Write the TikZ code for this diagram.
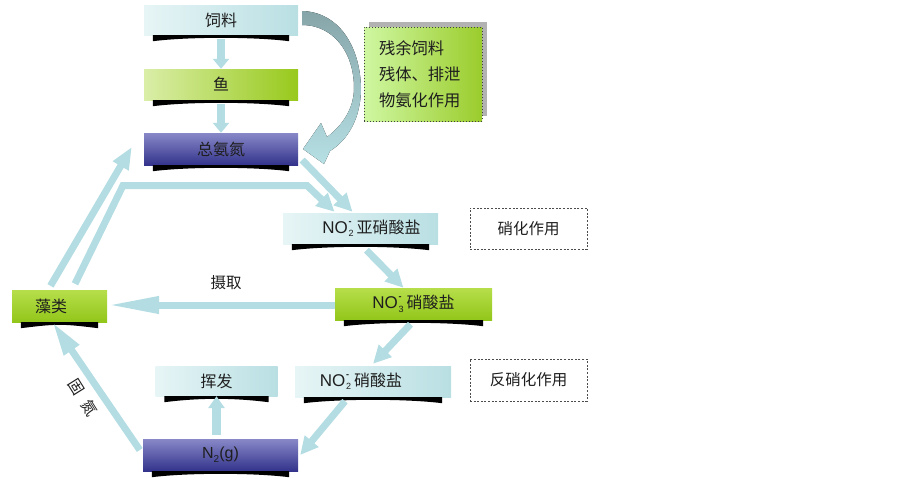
\documentclass[tikz,border=0pt]{standalone}
\usepackage{fontspec}
\setmainfont{Noto Sans CJK SC}
\newfontfamily\lat{Liberation Sans}
\usetikzlibrary{arrows.meta,calc}
\definecolor{arrc}{HTML}{B3DDE2}
\definecolor{txt}{HTML}{1E1E1E}
\definecolor{cL}{HTML}{E7F5F6}
\definecolor{cR}{HTML}{B9DFE3}
\definecolor{gL}{HTML}{DAEEA8}
\definecolor{gR}{HTML}{98C91C}
\definecolor{gT}{HTML}{B6DE4A}
\definecolor{gB}{HTML}{92C61A}
\definecolor{pT}{HTML}{8888C8}
\definecolor{pB}{HTML}{33338C}
\definecolor{rL}{HTML}{CFF7A2}
\definecolor{rR}{HTML}{9BCC2C}
\definecolor{curT}{HTML}{86A5A9}
\definecolor{curB}{HTML}{B6E0E4}
\newcommand{\nox}[1]{{\lat\fontsize{17}{17}\selectfont NO}\hspace{0.8pt}\rlap{\raisebox{-3.5pt}{\lat\fontsize{9}{9}\selectfont #1}}\raisebox{9pt}{\makebox[5pt][l]{\lat\fontsize{9}{9}\selectfont\bfseries -}}\hspace{3pt}}
\newcommand{\shd}[1]{\fill[black] ([xshift=9pt]#1.south west) -- ([xshift=-9pt]#1.south east) -- ([xshift=-9pt,yshift=-6pt]#1.south east) .. controls ([xshift=-45pt,yshift=-1.5pt]#1.south east) and ([xshift=45pt,yshift=-1.5pt]#1.south west) .. ([xshift=9pt,yshift=-6pt]#1.south west) -- cycle;}
\tikzset{
  bx/.style={minimum width=154pt, minimum height=31pt, inner sep=0pt, font=\fontsize{16}{16}\selectfont, text=txt},
  cyanbx/.style={bx, left color=cL, right color=cR},
  greenbx/.style={bx, left color=gL, right color=gR},
  greentb/.style={bx, top color=gT, bottom color=gB},
  purpbx/.style={bx, top color=pT, bottom color=pB},
  arr/.style={draw=arrc, line width=7pt, -{Triangle[width=17pt,length=18pt]}},
  varr/.style={draw=arrc, line width=8.5pt, -{Triangle[width=16pt,length=10pt]}},
  dbox/.style={draw=black!70, dash pattern=on 2pt off 1.6pt, line width=0.9pt, fill=white, minimum width=117pt, minimum height=41pt, inner sep=0pt, font=\fontsize{15.5}{15.5}\selectfont, text=txt},
  lbl/.style={font=\fontsize{15.5}{15.5}\selectfont, text=txt, inner sep=0pt}
}
\begin{document}
\begin{tikzpicture}[x=1pt,y=-1pt]
\useasboundingbox (0,0) rectangle (903,480);
% nodes
\node[cyanbx, minimum height=30pt] (feed) at (221,20) {饲料};
\node[greenbx] (fish) at (221,84.5) {鱼};
\node[purpbx, minimum height=32pt] (tan) at (221,149) {总氨氮};
\fill[black!30] (369,22) rectangle (487,116);
\node[draw=black!75, dotted, line width=1pt, left color=rL, right color=rR, minimum width=118pt, minimum height=94pt, text width=88pt, inner xsep=15pt, inner ysep=0pt, align=left, font=\fontsize{16.3}{26}\selectfont, text=txt] (rest) at (423,74) {残余饲料\\残体、排泄\\物氨化作用};
\node[cyanbx, minimum width=155pt] (no2) at (360.5,228.5) {\hspace*{22pt}\nox{2}亚硝酸盐};
\node[dbox] (nitr) at (528.5,228.5) {硝化作用};
\node[greentb, minimum width=157pt, minimum height=32pt] (no3) at (413.5,304) {\nox{3}硝酸盐};
\node[greentb, minimum width=95pt, minimum height=32pt] (algae) at (59.5,306) {藻类\hspace*{17pt}};
\node[cyanbx, minimum width=122pt, minimum height=30pt] (vol) at (216.5,381) {挥发};
\node[cyanbx, minimum width=156pt] (no2b) at (373,381.5) {\nox{2}硝酸盐\hspace*{24pt}};
\node[dbox, minimum height=42pt] (denit) at (528.5,380) {反硝化作用};
\node[purpbx, minimum width=155pt, minimum height=32pt] (n2) at (220.5,455) {{\lat\fontsize{16}{16}\selectfont N\raisebox{-4pt}{\fontsize{10}{10}\selectfont 2}(g)}};
% shadows
\shd{feed}\shd{fish}\shd{tan}\shd{no2}\shd{no3}\shd{algae}\shd{vol}\shd{no2b}\shd{n2}
% curved arrow
\fill[top color=curT, bottom color=curB] (302,11) .. controls (338,12) and (360,45) .. (361,88) .. controls (361,118) and (348,140) .. (330,151) -- (324,164) -- (303,149) -- (321,123) -- (327,137) .. controls (343,125) and (354,108) .. (354,88) .. controls (354,52) and (333,25) .. (302,25) -- cycle;
% arrows
\draw[varr] ([yshift=-4pt]feed.south) -- (fish.north);
\draw[varr] ([yshift=-4pt]fish.south) -- (tan.north);
\draw[arr] ([xshift=4pt,yshift=-11pt]tan.east) -- ([xshift=-8pt,yshift=1pt]no2.north);
\draw[arr, -{Triangle[width=17pt,length=22pt]}] ([xshift=-9pt,yshift=4pt]algae.north) -- ([xshift=-12pt,yshift=2pt]tan.west);
\coordinate (c1) at (123,185.5);
\coordinate (c2) at (307,185.5);
\draw[arr] ([xshift=15.5pt,yshift=6pt]algae.north) -- (c1) -- (c2) -- ([xshift=-26pt,yshift=1pt]no2.north);
\draw[arr] ([xshift=6pt,yshift=-6pt]no2.south) -- ([xshift=-10pt]no3.north);
\draw[arr, -{Triangle[width=16pt,length=52pt]}] ([yshift=-1pt]no3.west) -- ([yshift=1pt]algae.east);
\draw[arr] ([xshift=-3pt,yshift=-4pt]no3.south) -- ([yshift=2pt]no2b.north);
\draw[arr] ([xshift=-28pt,yshift=-4pt]no2b.south) -- ([xshift=2pt]n2.east);
\draw[varr, -{Triangle[width=16pt,length=12pt]}] ([xshift=-4pt,yshift=4pt]n2.north) -- (vol.south);
\draw[arr, -{Triangle[width=17pt,length=34pt]}] ([xshift=-3pt,yshift=5pt]n2.west) -- ([xshift=-7pt]algae.south);
% labels
\node[lbl] (take) at (226,283) {摄取};
\node[lbl, rotate=-58] (fix) at (83.5,397.5) {固\hspace{9pt}氮};
\end{tikzpicture}
\end{document}
